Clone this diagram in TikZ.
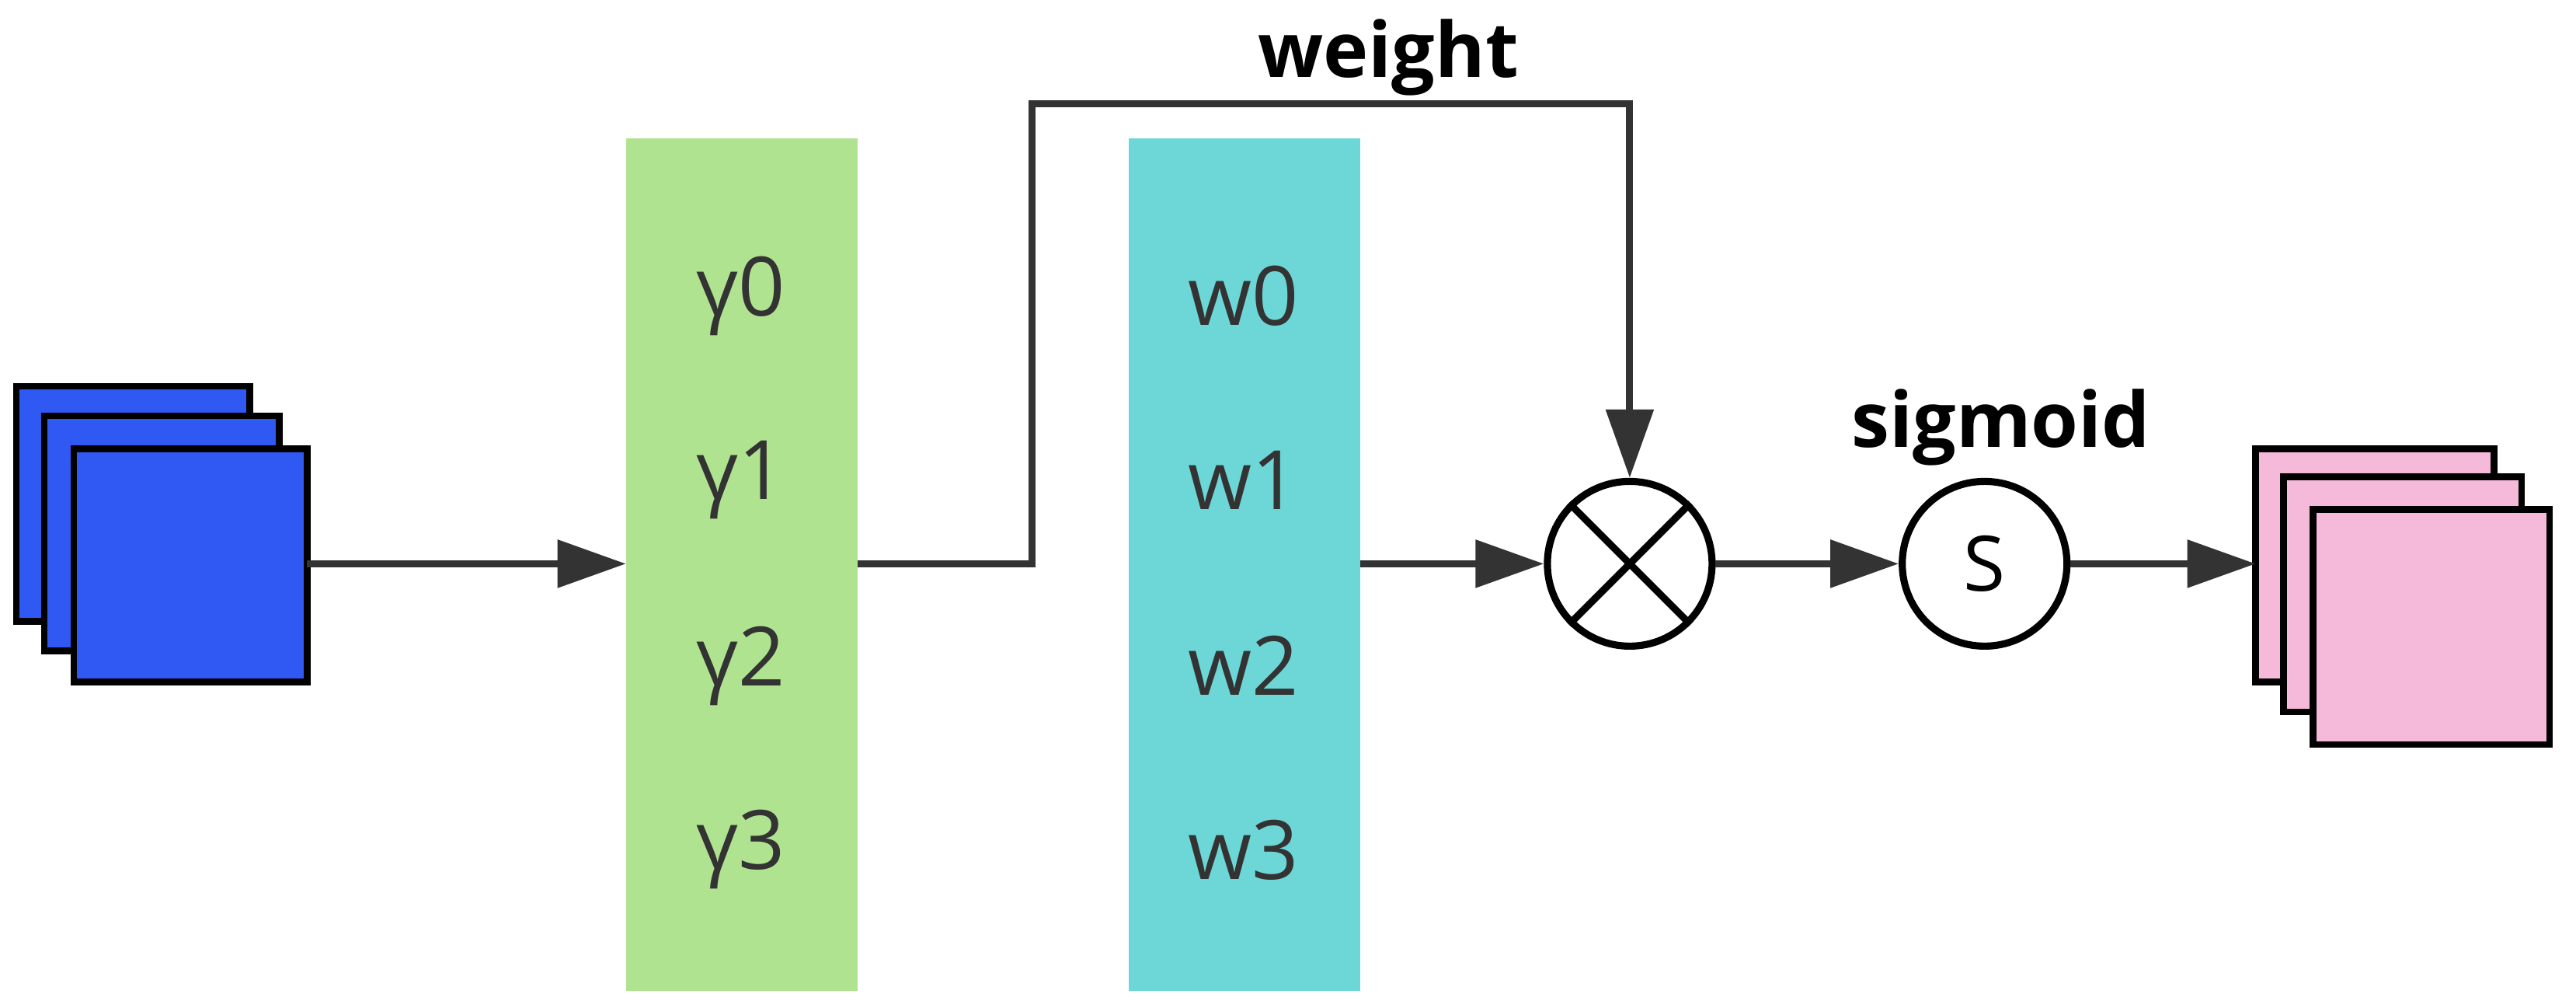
\documentclass[tikz,border=0pt]{standalone}
\usepackage{fontspec}
\setmainfont{Open Sans}
\usetikzlibrary{arrows.meta}
\definecolor{fblue}{HTML}{3058F2}
\definecolor{fgreen}{HTML}{B0E390}
\definecolor{fcyan}{HTML}{6DD6D7}
\definecolor{fpink}{HTML}{F5B9DA}
\definecolor{ink}{HTML}{333333}
\begin{document}
\begin{tikzpicture}[x=0.010574cm,y=-0.010574cm,
  sq/.style={draw=black,line width=1.2pt},
  conn/.style={draw=ink,line width=1.3pt},
  arr/.style={conn,-{Triangle[length=0.44cm,width=0.30cm]}},
  lbl/.style={font=\fontsize{15}{18}\selectfont,text=ink},
  blbl/.style={font=\fontsize{14}{17}\selectfont\bfseries,text=black},
  op/.style={circle,draw=black,line width=1.3pt,fill=white,minimum size=1.06cm,inner sep=0pt}]
\useasboundingbox (0,0) rectangle (1568,613);
% input stack
\fill[fblue,sq] (10,235) rectangle (152,378);
\fill[fblue,sq] (27,253) rectangle (170,396);
\fill[fblue,sq] (45,273) rectangle (187,415);
\coordinate (in) at (187,343);
% gamma
\fill[fgreen] (381,84) rectangle (522,603);
\node[lbl] at (451,180) {γ0};
\node[lbl] at (451,292) {γ1};
\node[lbl] at (451,405) {γ2};
\node[lbl] at (451,517) {γ3};
\coordinate (gin) at (381,343);
\coordinate (gout) at (522,343);
% w
\fill[fcyan] (687,84) rectangle (828,603);
\node[lbl] at (757,180) {w0};
\node[lbl] at (757,292) {w1};
\node[lbl] at (757,405) {w2};
\node[lbl] at (757,517) {w3};
\coordinate (wout) at (828,343);
% ops
\node[op] (mul) at (992,343) {};
\draw[line width=1.3pt] (mul.45) -- (mul.225) (mul.135) -- (mul.315);
\node[op,font=\fontsize{14}{17}\selectfont] (sig) at (1208,343) {S};
\node[blbl] at (845,35) {weight};
\node[blbl] at (1218,260) {sigmoid};
% output stack
\fill[fpink,sq] (1373,273) rectangle (1518,415);
\fill[fpink,sq] (1390,290) rectangle (1535,433);
\fill[fpink,sq] (1408,310) rectangle (1552,453);
\coordinate (out) at (1373,343);
% connectors
\draw[arr] (in) -- (gin);
\draw[arr] (gout) -- (628,343) -- (628,63) -- (992,63) -- (mul.north);
\draw[arr] (wout) -- (mul.west);
\draw[arr] (mul.east) -- (sig.west);
\draw[arr] (sig.east) -- (out);
\end{tikzpicture}
\end{document}
